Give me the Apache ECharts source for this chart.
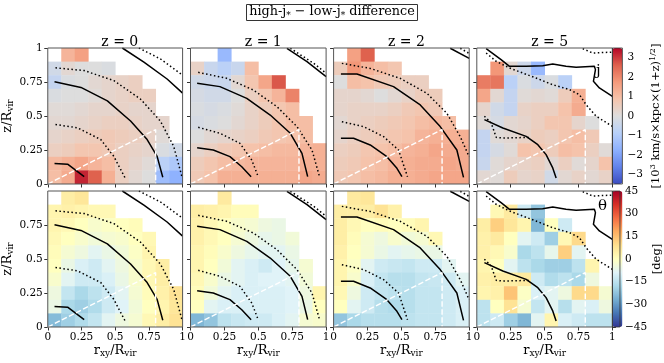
<!DOCTYPE html>
<html><head><meta charset="utf-8">
<script src="https://cdn.jsdelivr.net/npm/echarts@6/dist/echarts.min.js"></script>
<style>html,body{margin:0;padding:0;background:#fff}#c{width:664px;height:363px}</style>
</head><body><div id="c"></div>
<script>
// ---------------- DATA ----------------
const xBinCenters = [0.05,0.15,0.25,0.35,0.45,0.55,0.65,0.75,0.85,0.95];
const zBinCenters = [0.95,0.85,0.75,0.65,0.55,0.45,0.35,0.25,0.15,0.05]; // rows listed top -> bottom
const redshiftLabels = ['z = 0','z = 1','z = 2','z = 5'];
const axisTickValues = [0,0.25,0.5,0.75,1];
const jColorbarTicks = [-3,-2,-1,0,1,2,3];
const jRange = [-3.5,3.5];
const thetaRange = [-45,45];
const _ = null;

// high-j minus low-j specific angular momentum difference [10^3 km/s kpc (1+z)^1/2]
const jDiff_z0 = [
  [_,1.2,1.6,_,_,_,_,_,_,_],
  [-0.3,0.2,0.0,0.0,-0.1,_,_,_,_,_],
  [-0.6,-0.1,0.0,0.2,0.3,0.4,0.5,_,_,_],
  [-0.1,0.0,0.0,0.1,0.3,0.4,0.5,0.5,_,_],
  [0.1,0.1,0.2,0.3,0.3,0.4,0.3,0.3,_,_],
  [0.2,0.2,0.3,0.4,0.5,0.5,0.4,0.3,0.3,_],
  [0.3,0.4,0.5,0.6,0.7,0.6,0.5,0.4,0.1,_],
  [0.5,0.6,0.8,0.8,0.7,0.5,0.4,0.3,-0.1,-0.3],
  [1.1,1.3,1.5,1.2,1.0,0.5,0.3,0.1,-0.8,-1.1],
  [1.0,1.4,3.2,2.6,1.3,0.5,0.2,0.0,-1.4,-1.7]
];
const jDiff_z1 = [
  [_,_,-1.5,_,_,_,_,_,_,_],
  [0.4,-0.5,-0.8,-0.5,1.0,_,_,_,_,_],
  [-0.3,-0.4,-0.5,0.2,0.8,1.5,2.7,_,_,_],
  [-0.2,-0.3,-0.3,0.0,0.5,0.8,1.2,2.1,_,_],
  [-0.1,-0.2,-0.1,0.1,0.4,0.6,0.8,1.0,_,_],
  [-0.2,-0.1,0.0,0.2,0.4,0.6,0.8,1.0,1.0,_],
  [0.0,0.2,0.3,0.4,0.5,0.7,0.8,0.9,1.0,_],
  [0.3,0.5,0.7,0.8,0.9,1.0,1.1,1.1,1.2,1.3],
  [0.6,0.8,1.0,1.1,1.2,1.2,1.2,1.2,1.3,1.3],
  [0.7,0.9,1.3,1.3,1.3,1.3,1.3,1.3,1.5,1.4]
];
const jDiff_z2 = [
  [_,1.6,2.6,_,_,_,_,_,_,_],
  [0.6,1.8,1.2,1.0,0.8,_,_,_,_,_],
  [0.0,1.0,0.9,0.7,0.6,0.5,0.5,_,_,_],
  [0.3,0.3,0.2,0.0,0.2,0.4,0.6,0.6,_,_],
  [0.3,0.4,0.4,0.4,0.5,0.7,0.8,0.7,_,_],
  [0.2,0.4,0.5,0.6,0.7,0.8,1.0,1.1,1.0,_],
  [0.3,0.5,0.6,0.7,0.8,0.9,1.2,1.3,1.3,1.3],
  [0.5,0.6,0.8,0.9,1.0,1.2,1.3,1.5,1.4,1.4],
  [0.6,0.7,0.9,1.0,1.2,1.3,1.4,1.4,1.5,1.4],
  [0.7,0.8,1.0,1.1,1.3,1.3,1.4,1.5,1.5,1.5]
];
const jDiff_z5 = [
  [_,_,_,_,_,_,_,_,_,_],
  [_,1.8,0.2,-0.4,-1.5,_,_,_,_,_],
  [2.2,2.3,-0.8,-0.1,-0.4,-0.1,-0.8,_,_,_],
  [1.5,0.2,-0.6,0.1,0.2,0.1,0.6,1.3,_,_],
  [0.3,-0.3,-0.6,0.4,0.5,0.5,0.9,1.4,_,_],
  [0.1,-0.2,0.2,0.3,0.5,0.8,0.8,0.3,0.0,_],
  [-0.6,0.1,0.2,0.4,0.6,0.5,0.8,1.0,0.7,_],
  [-0.6,-0.2,0.1,0.9,0.8,0.6,1.0,0.9,0.5,0.1],
  [-0.5,0.1,0.3,0.4,0.5,0.2,0.5,0.1,0.3,0.9],
  [0.2,0.1,0.6,0.3,0.4,-0.3,0.2,0.4,0.2,0.4]
];

// high-j minus low-j angle difference theta [deg]
const thetaDiff_z0 = [
  [_,5,7,_,_,_,_,_,_,_],
  [3,4,3,2,2,_,_,_,_,_],
  [3,2,0,-2,-1,0,1,_,_,_],
  [2,0,-2,-4,-3,-2,0,2,_,_],
  [1,-3,-5,-8,-6,-4,-1,3,_,_],
  [0,-6,-10,-12,-8,-5,-2,2,5,_],
  [-2,-8,-12,-12,-10,-6,-2,2,5,_],
  [-5,-14,-18,-15,-12,-8,-3,1,4,8],
  [-6,-18,-20,-17,-12,-9,-4,0,3,7],
  [-24,-20,-17,-14,-8,-5,-3,2,5,8]
];
const thetaDiff_z1 = [
  [_,_,6,_,_,_,_,_,_,_],
  [5,4,3,1,1,_,_,_,_,_],
  [4,2,0,-2,-3,-5,-6,_,_,_],
  [4,2,0,-3,-5,-7,-6,-4,_,_],
  [3,1,-2,-5,-7,-8,-8,-6,_,_],
  [3,0,-4,-8,-10,-12,-9,-7,-3,_],
  [2,-2,-6,-8,-10,-9,-9,-8,-4,_],
  [1,-4,-8,-10,-10,-10,-10,-9,-5,3],
  [0,-8,-10,-10,-10,-10,-10,-9,-6,0],
  [-25,-22,-15,-13,-12,-12,-10,-8,-3,-2]
];
const thetaDiff_z2 = [
  [_,6,7,_,_,_,_,_,_,_],
  [5,5,5,8,4,_,_,_,_,_],
  [5,2,0,1,0,1,3,_,_,_],
  [5,1,-3,-5,-2,-4,-3,2,_,_],
  [4,0,-3,-6,-8,-7,-6,-6,_,_],
  [3,-1,-8,-12,-13,-14,-12,-12,-8,_],
  [3,-2,-10,-14,-16,-16,-14,-13,-12,-8],
  [2,-5,-12,-14,-15,-16,-14,-14,-12,-10],
  [0,-8,-12,-16,-17,-16,-14,-14,-12,-10],
  [-22,-18,-16,-16,-16,-15,-14,-14,-12,-10]
];
const thetaDiff_z5 = [
  [_,_,_,_,_,_,_,_,_,_],
  [_,2,6,-12,-22,_,_,_,_,_],
  [5,12,7,3,-25,0,-12,_,_,_],
  [4,6,0,-8,-12,-20,2,10,_,_],
  [4,2,-2,-18,-15,-7,12,-8,_,_],
  [3,0,-8,-15,-18,-20,-20,-15,3,_],
  [4,5,5,6,-12,-17,-15,-18,-5,_],
  [3,4,14,-1,-10,-8,-5,10,10,-3],
  [-15,0,8,-3,-14,-8,-16,-8,-10,-5],
  [-15,-12,-20,-25,-8,3,-10,-12,-15,-15]
];

// density contours [r_xy/R_vir, z/R_vir]
const z0_solidInner = [[0.05,0.15],[0.147,0.146],[0.27,0.054]];
const z0_dotInner = [[0.057,0.438],[0.22,0.413],[0.393,0.327],[0.49,0.203],[0.572,0.047]];
const z0_solidMid = [[0.05,0.752],[0.246,0.71],[0.442,0.611],[0.614,0.463],[0.737,0.327],[0.811,0.203],[0.853,0.05]];
const z0_dotMid = [[0.057,0.854],[0.27,0.834],[0.491,0.76],[0.688,0.624],[0.835,0.463],[0.934,0.277],[0.995,0.054]];
const z0_solidOuter = [[0.553,1.0],[0.713,0.896],[0.885,0.772],[1.0,0.668]];
const z0_dotOuter = [[0.676,1.0],[0.835,0.92],[1.0,0.8]];

const z1_solidInner = [[0.049,0.267],[0.168,0.25],[0.291,0.201],[0.378,0.127],[0.447,0.054]];
const z1_dotInner = [[0.057,0.417],[0.217,0.373],[0.365,0.299],[0.452,0.176],[0.501,0.049]];
const z1_solidMid = [[0.049,0.74],[0.217,0.716],[0.415,0.63],[0.588,0.507],[0.736,0.373],[0.822,0.225],[0.864,0.054]];
const z1_dotMid = [[0.057,0.821],[0.267,0.777],[0.464,0.691],[0.637,0.569],[0.785,0.422],[0.896,0.25],[0.953,0.049]];
const z1_solidOuter = [[0.711,0.998],[0.859,0.9],[1.0,0.79]];
const z1_dotOuter = [[0.736,0.998],[0.909,0.887],[1.0,0.814]];

const z2_solidInner = [[0.054,0.336],[0.147,0.336],[0.27,0.287],[0.393,0.201],[0.467,0.115],[0.504,0.054]];
const z2_dotInner = [[0.061,0.458],[0.221,0.422],[0.369,0.348],[0.479,0.25],[0.545,0.054]];
const z2_solidMid = [[0.054,0.809],[0.172,0.809],[0.442,0.716],[0.639,0.581],[0.786,0.422],[0.909,0.25],[0.958,0.049]];
const z2_dotMid = [[0.061,0.887],[0.27,0.85],[0.491,0.777],[0.688,0.667],[0.835,0.52],[0.934,0.348],[1.0,0.2]];
const z2_solidOuter = [[0.86,0.998],[1.0,0.924]];
const z2_dotOuter = [[0.934,0.998],[1.0,0.96]];

const z5_solidInner = [[0.056,0.473],[0.192,0.412],[0.364,0.35],[0.45,0.289],[0.511,0.216],[0.56,0.118],[0.585,0.044]];
const z5_dotInner = [[0.056,0.498],[0.106,0.449],[0.143,0.343],[0.192,0.338],[0.40,0.343]];
const z5_solidOuter = [[0.069,0.995],[0.179,0.914],[0.241,0.865],[0.364,0.865],[0.486,0.87],[0.56,0.882],[0.658,0.865],[0.732,0.858],[0.867,0.865],[0.875,0.841],[0.86,0.755],[0.904,0.706],[1.0,0.645]];
const z5_dotMid = [[0.069,0.963],[0.143,0.902],[0.241,0.853],[0.437,0.779],[0.56,0.73],[0.683,0.694],[0.757,0.657],[0.806,0.583],[0.88,0.498],[1.0,0.424]];
const z5_dotOuter = [[0.781,0.995],[0.855,0.963],[1.0,0.97]];

const solidContours = [
  [z0_solidInner,z0_solidMid,z0_solidOuter],
  [z1_solidInner,z1_solidMid,z1_solidOuter],
  [z2_solidInner,z2_solidMid,z2_solidOuter],
  [z5_solidInner,z5_solidOuter]
];
const dottedContours = [
  [z0_dotInner,z0_dotMid,z0_dotOuter],
  [z1_dotInner,z1_dotMid,z1_dotOuter],
  [z2_dotInner,z2_dotMid,z2_dotOuter],
  [z5_dotInner,z5_dotMid,z5_dotOuter]
];
const diskWedge = [[0,0],[0.8,0.4],[0.8,0]];

const jPanels = [jDiff_z0,jDiff_z1,jDiff_z2,jDiff_z5];
const thetaPanels = [thetaDiff_z0,thetaDiff_z1,thetaDiff_z2,thetaDiff_z5];

// ---------------- STYLE ----------------
const FONT = 'DejaVu Serif';
const coolwarm = ['#3b4cc0','#6282ea','#8db0fe','#b8d0f9','#dddddd','#f5c4ac','#f49a7b','#de604d','#b40426'];
const rdylbu_r = ['#313695','#4575b4','#74add1','#abd9e9','#e0f3f8','#ffffbf','#fee090','#fdae61','#f46d43','#d73027','#a50026'];
const gridLefts = [47, 190.5, 333.6, 476.8];
const gridW = 135.6, gridH = 136;
const gridTops = [48, 191];

const grids = [], xAxes = [], yAxes = [], series = [];
const topIdx = [], botIdx = [];
const subRich = {
  a: {fontFamily: FONT, fontSize: 13, fontWeight: 'normal', color: '#000', lineHeight: 16},
  s: {fontFamily: FONT, fontSize: 9, fontWeight: 'normal', color: '#000', verticalAlign: 'bottom', lineHeight: 8}
};

function cellsFrom(panel) {
  const out = [];
  panel.forEach((row, ri) => row.forEach((v, ci) => {
    if (v !== null) out.push([xBinCenters[ci], zBinCenters[ri], v]);
  }));
  return out;
}
function renderCell(params, api) {
  const x = api.value(0), z = api.value(1);
  const p0 = api.coord([x - 0.05, z + 0.05]);
  const p1 = api.coord([x + 0.05, z - 0.05]);
  return {type: 'rect', shape: {x: p0[0], y: p0[1], width: p1[0] - p0[0] + 0.4, height: p1[1] - p0[1] + 0.4},
          style: {fill: api.visual('color')}};
}

for (let r = 0; r < 2; r++) {
  for (let c = 0; c < 4; c++) {
    const gi = r * 4 + c;
    grids.push({left: gridLefts[c], top: gridTops[r], width: gridW, height: gridH,
                show: true, borderColor: '#555', borderWidth: 1, backgroundColor: 'transparent', z: 5});
    xAxes.push({
      type: 'value', gridIndex: gi, min: 0, max: 1, interval: 0.25,
      axisLine: {show: false}, splitLine: {show: false},
      axisTick: {show: true, inside: false, length: 3.5, lineStyle: {color: '#333'}},
      axisLabel: {show: r === 1, fontFamily: FONT, fontSize: 10.5, color: '#000', margin: 5, showMinLabel: true, showMaxLabel: true},
      name: r === 1 ? '{a|r}{s|xy}{a|/R}{s|vir}' : '', nameLocation: 'middle', nameGap: 15,
      nameTextStyle: {rich: subRich}
    });
    yAxes.push({
      type: 'value', gridIndex: gi, min: 0, max: 1, interval: 0.25,
      axisLine: {show: false}, splitLine: {show: false},
      axisTick: {show: true, inside: false, length: 3.5, lineStyle: {color: '#333'}},
      axisLabel: {show: c === 0, fontFamily: FONT, fontSize: 10.5, color: '#000', margin: 5,
                  showMinLabel: true, showMaxLabel: r === 0},
      name: c === 0 ? '{a|z/R}{s|vir}' : '', nameLocation: 'middle', nameGap: 26, nameRotate: 90,
      nameTextStyle: {rich: subRich}
    });
    const panel = r === 0 ? jPanels[c] : thetaPanels[c];
    (r === 0 ? topIdx : botIdx).push(series.length);
    series.push({type: 'custom', xAxisIndex: gi, yAxisIndex: gi, data: cellsFrom(panel),
                 encode: {x: 0, y: 1}, renderItem: renderCell, silent: true, z: 1, clip: true});
    solidContours[c].forEach(d => series.push({type: 'line', xAxisIndex: gi, yAxisIndex: gi, data: d,
      showSymbol: false, symbol: 'none', silent: true, z: 3, clip: true,
      lineStyle: {color: '#000', width: 1.5}}));
    dottedContours[c].forEach(d => series.push({type: 'line', xAxisIndex: gi, yAxisIndex: gi, data: d,
      showSymbol: false, symbol: 'none', silent: true, z: 3, clip: true,
      lineStyle: {color: '#000', width: 1.5, type: [1.5, 2.5]}}));
    series.push({type: 'line', xAxisIndex: gi, yAxisIndex: gi, data: diskWedge,
      showSymbol: false, symbol: 'none', silent: true, z: 3, clip: true,
      lineStyle: {color: '#fff', width: 1.4, type: [5.5, 2.4]}});
  }
}

// colorbar axes
const cbLeft = gridLefts[3] + gridW;
[0, 1].forEach(r => {
  const gi = grids.length;
  grids.push({left: cbLeft, top: gridTops[r], width: 10, height: gridH, show: true,
              borderColor: '#333', borderWidth: 0.8, backgroundColor: 'transparent', z: 6});
  xAxes.push({type: 'value', gridIndex: gi, min: 0, max: 1, show: false});
  const isJ = r === 0;
  yAxes.push({
    type: 'value', gridIndex: gi, position: 'right',
    min: isJ ? jRange[0] : thetaRange[0], max: isJ ? jRange[1] : thetaRange[1],
    interval: isJ ? 1 : 15,
    axisLine: {show: false}, splitLine: {show: false},
    axisTick: isJ ? {show: true, length: 3.5, customValues: jColorbarTicks, lineStyle: {color: '#333'}}
                  : {show: true, length: 3.5, lineStyle: {color: '#333'}},
    axisLabel: Object.assign({fontFamily: FONT, fontSize: 10.5, color: '#000', margin: 5,
                 formatter: v => String(v).replace('-', '\u2212')},
                 isJ ? {customValues: jColorbarTicks} : {}),
    name: isJ ? '{a|[10}{p|3}{a| km/s\u00d7kpc\u00d7(1+z)}{p|1/2}{a|]}' : '{a|[deg]}',
    nameLocation: 'middle', nameRotate: 90, nameGap: isJ ? 27 : 23,
    nameTextStyle: {rich: {
      a: {fontFamily: FONT, fontSize: 11.5, fontWeight: 'normal', color: '#000', lineHeight: 14},
      p: {fontFamily: FONT, fontSize: 8, fontWeight: 'normal', color: '#000', verticalAlign: 'top', lineHeight: 8}
    }}
  });
  series.push({type: 'line', xAxisIndex: gi, yAxisIndex: gi, data: [], silent: true});
});

const option = {
  backgroundColor: '#fff',
  animation: false,
  title: [
    {text: '{a|high-j}{s|*}{a| \u2212 low-j}{s|*}{a| difference}', left: 'center', top: 3,
     padding: [1, 3, 1, 3], borderColor: '#333', borderWidth: 1,
     textStyle: {fontWeight: 'normal', rich: {
       a: {fontFamily: FONT, fontSize: 12.8, fontWeight: 'normal', color: '#000', lineHeight: 16},
       s: {fontFamily: FONT, fontSize: 9, fontWeight: 'normal', color: '#000', verticalAlign: 'bottom', lineHeight: 9}
     }}}
  ].concat(redshiftLabels.map((t, c) => ({
    text: t, left: gridLefts[c] + gridW / 2, top: 30, textAlign: 'center',
    textStyle: {fontFamily: FONT, fontSize: 14, fontWeight: 'normal', color: '#000'}
  }))),
  grid: grids,
  xAxis: xAxes,
  yAxis: yAxes,
  visualMap: [
    {type: 'continuous', min: jRange[0], max: jRange[1], dimension: 2, seriesIndex: topIdx,
     inRange: {color: coolwarm}, left: cbLeft, top: gridTops[0], itemWidth: 10, itemHeight: gridH,
     calculable: false, padding: 0, text: null, showLabel: false, hoverLink: false, realtime: false},
    {type: 'continuous', min: thetaRange[0], max: thetaRange[1], dimension: 2, seriesIndex: botIdx,
     inRange: {color: rdylbu_r}, left: cbLeft, top: gridTops[1], itemWidth: 10, itemHeight: gridH,
     calculable: false, padding: 0, text: null, showLabel: false, hoverLink: false, realtime: false}
  ],
  graphic: [
    {type: 'text', left: 596, top: 64, style: {text: 'j', fontFamily: FONT, fontSize: 15, fill: '#000'}, z: 10},
    {type: 'text', left: 598, top: 199, style: {text: '\u03b8', fontFamily: FONT, fontSize: 15, fill: '#000'}, z: 10}
  ],
  series: series
};
const chart = echarts.init(document.getElementById('c'), null, {renderer: 'canvas'});
chart.setOption(option);
</script>
</body></html>
